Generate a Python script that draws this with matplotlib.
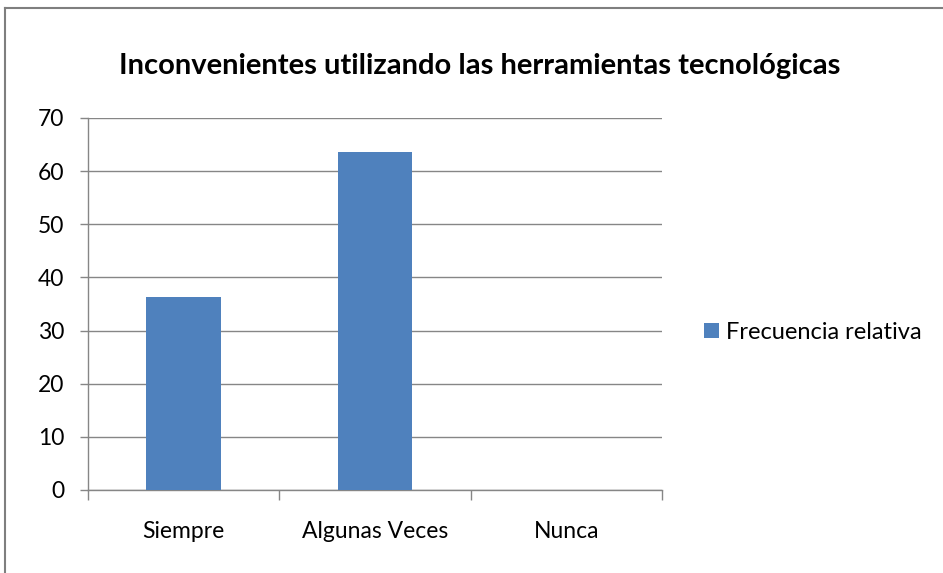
import matplotlib.pyplot as plt
from matplotlib.patches import Patch
from matplotlib.lines import Line2D

categories = ['Siempre', 'Algunas Veces', 'Nunca']
frecuencia_relativa = [36.36, 63.64, 0.0]
y_ticks = [0, 10, 20, 30, 40, 50, 60, 70]

bar_color = '#4F81BD'
grid_color = '#868686'

plt.rcParams['font.family'] = ['Lato', 'DejaVu Sans']

fig = plt.figure(figsize=(9.43, 5.73), dpi=100)
ax = fig.add_axes([88 / 943, 83 / 573, 574 / 943, 372 / 573])

x = range(len(categories))
ax.bar(x, frecuencia_relativa, width=0.39, color=bar_color, zorder=3)

ax.set_xlim(-0.5, len(categories) - 0.5)
ax.set_ylim(0, 70)
ax.set_yticks(y_ticks)
ax.yaxis.grid(True, color=grid_color, linewidth=1, zorder=0)

# category labels centred, tick marks between categories
ax.set_xticks([i - 0.5 for i in range(len(categories) + 1)], minor=False)
ax.set_xticklabels([])
ax.set_xticks(list(x), minor=True)
ax.set_xticklabels(categories, minor=True, fontsize=16.5)
ax.tick_params(axis='x', which='minor', length=0, pad=22)
ax.tick_params(axis='x', which='major', length=7, color=grid_color, width=1)
ax.tick_params(axis='y', length=6, color=grid_color, width=1, labelsize=16.5, pad=11)

for side in ['top', 'right']:
    ax.spines[side].set_visible(False)
for side in ['left', 'bottom']:
    ax.spines[side].set_color(grid_color)
    ax.spines[side].set_linewidth(1)

fig.text(0.509, 0.885, 'Inconvenientes utilizando las herramientas tecnológicas',
         ha='center', va='center', fontsize=21, fontweight='bold')

handles = [Patch(facecolor=bar_color, edgecolor='none', label='Frecuencia relativa')]
fig.legend(handles=handles, loc='center left', bbox_to_anchor=(0.742, 0.42),
           frameon=False, fontsize=17, handlelength=0.6, handleheight=0.6,
           handletextpad=0.3, borderaxespad=0, borderpad=0.2)

# outer chart border (left and top visible)
fig.add_artist(Line2D([5 / 943, 5 / 943], [0, 1 - 8 / 573], color='#7F7F7F',
                      linewidth=1.5, transform=fig.transFigure))
fig.add_artist(Line2D([5 / 943, 1], [1 - 8 / 573, 1 - 8 / 573], color='#7F7F7F',
                      linewidth=1.5, transform=fig.transFigure))

fig.savefig('out.png', dpi=100)
